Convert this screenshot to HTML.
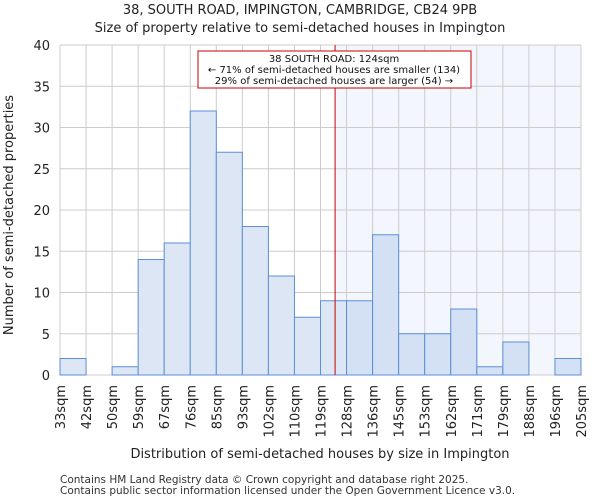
<!DOCTYPE html>
<html><head><meta charset="utf-8"><style>
body{margin:0;background:#fff;font-family:"DejaVu Sans","Liberation Sans",sans-serif}
</style></head><body>
<svg id="c" width="600" height="500" xmlns="http://www.w3.org/2000/svg" font-family="DejaVu Sans, Liberation Sans, sans-serif"></svg>
<script>
const categories=["33sqm","42sqm","50sqm","59sqm","67sqm","76sqm","85sqm","93sqm","102sqm","110sqm","119sqm","128sqm","136sqm","145sqm","153sqm","162sqm","171sqm","179sqm","188sqm","196sqm","205sqm"];
const counts=[2,0,1,14,16,32,27,18,12,7,9,9,17,5,5,8,1,4,0,2];
const yTicks=[0,5,10,15,20,25,30,35,40];
const markerBin=10.56;
const L=60,R=581,T=45,B=375,yMax=40;
const bw=(R-L)/counts.length;
const xs=i=>L+i*bw, ys=v=>B-(v/yMax)*(B-T);
const svg=document.getElementById('c');
function el(t,a,p){const e=document.createElementNS('http://www.w3.org/2000/svg',t);for(const k in a)e.setAttribute(k,a[k]);(p||svg).appendChild(e);return e;}
function tx(s,a){const e=el('text',a);e.textContent=s;return e;}
const mx=xs(markerBin);
let r=el('rect',{x:mx,y:T,width:R-mx,height:B-T,fill:'#f3f6fd'});


for(let i=0;i<=counts.length;i++){let g=el('line',{x1:xs(i),x2:xs(i),y1:T,y2:B,stroke:'#cccccc','stroke-width':1});}
yTicks.forEach(v=>{let g=el('line',{x1:L,x2:R,y1:ys(v),y2:ys(v),stroke:'#cccccc','stroke-width':1});
let t=tx(String(v),{x:L-10,y:ys(v)+5,'text-anchor':'end','font-size':13,fill:'#222'});});
counts.forEach((v,i)=>{if(!v)return;let b=el('rect',{x:xs(i),y:ys(v),width:bw,height:B-ys(v),fill:i>=11?'#d4e0f3':'#dce6f4',stroke:'#5b8fd6','stroke-width':1});});
let ml=el('line',{x1:mx,x2:mx,y1:T,y2:B,stroke:'#cc0000','stroke-width':1});

categories.forEach((c,i)=>{let t=tx(c,{transform:`translate(${xs(i)+5},${B+10}) rotate(-90)`,'text-anchor':'end','font-size':13,fill:'#222'});});
let box=el('rect',{x:198,y:51,width:273,height:37,fill:'#fff',stroke:'#cc0000','stroke-width':1});

[["38 SOUTH ROAD: 124sqm",62],["← 71% of semi-detached houses are smaller (134)",73],["29% of semi-detached houses are larger (54) →",84]].forEach(([s,y])=>{let t=tx(s,{x:334,y:y,'text-anchor':'middle','font-size':10,fill:'#111'});});
let t1=tx("38, SOUTH ROAD, IMPINGTON, CAMBRIDGE, CB24 9PB",{x:300,y:14,'text-anchor':'middle','font-size':13,fill:'#222'});
let t2=tx("Size of property relative to semi-detached houses in Impington",{x:300,y:32,'text-anchor':'middle','font-size':13,fill:'#222'});
let xt=tx("Distribution of semi-detached houses by size in Impington",{x:320,y:458,'text-anchor':'middle','font-size':13,fill:'#222'});
let yt=tx("Number of semi-detached properties",{transform:'translate(13,215) rotate(-90)','text-anchor':'middle','font-size':13,fill:'#222'});
let f1=tx("Contains HM Land Registry data © Crown copyright and database right 2025.",{x:60,y:483,'font-size':10.5,fill:'#333'});
let f2=tx("Contains public sector information licensed under the Open Government Licence v3.0.",{x:60,y:494,'font-size':10.5,fill:'#333'});
</script>
</body></html>
